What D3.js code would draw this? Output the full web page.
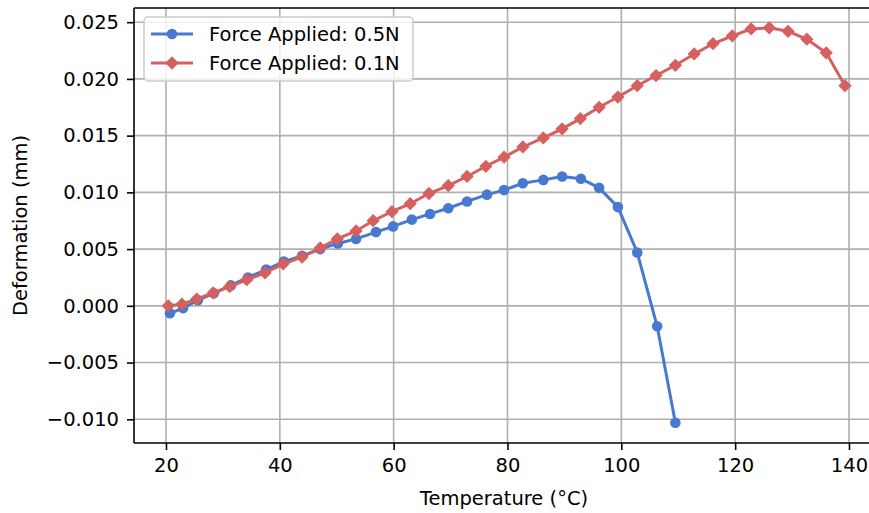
<!DOCTYPE html>
<html>
<head>
<meta charset="utf-8">
<script src="https://cdn.jsdelivr.net/npm/d3@7"></script>
<style>
    body { margin: 0; background: white; }
    text { font-family: "DejaVu Sans", sans-serif; }
</style>
</head>
<body>
<div id="chart"></div>
<script>
const CTX = {
    SVG_W: 869,
    SVG_H: 513,
    BLUE: "#4878CF",
    RED: "#D65F5F",
    GRID: "#b0b0b0",
    FONT: "19.5px"
};

// temperatures (°C) and deformation (mm)
const tempBlue = [20.7, 23.0, 25.6, 28.4, 31.4, 34.4, 37.6, 40.7, 43.9, 47.1, 50.2, 53.4, 56.9, 59.9, 63.2,
    66.4, 69.6, 72.9, 76.4, 79.4, 82.7, 86.3, 89.6, 92.9, 96.1, 99.4, 102.8, 106.3, 109.5];
const defBlue = [-0.00066, -0.0002, 0.0005, 0.0011, 0.0018, 0.0025, 0.0032, 0.0039, 0.0044, 0.0050, 0.0055,
    0.0059, 0.0065, 0.0070, 0.0076, 0.0081, 0.0086, 0.0092, 0.0098, 0.0102, 0.0108, 0.0111, 0.0114, 0.0112,
    0.0104, 0.0087, 0.0047, -0.0018, -0.0103];

const tempRed = [20.4, 22.8, 25.4, 28.3, 31.2, 34.2, 37.4, 40.6, 43.9, 47.1, 50.1, 53.4, 56.4, 59.7, 62.9,
    66.2, 69.6, 72.9, 76.2, 79.4, 82.7, 86.3, 89.6, 92.8, 96.1, 99.4, 102.8, 106.1, 109.5, 112.8, 116.1,
    119.5, 122.8, 126.0, 129.3, 132.6, 136.0, 139.3];
const defRed = [0.0000, 0.00015, 0.0006, 0.00115, 0.0017, 0.0023, 0.0029, 0.0037, 0.0043, 0.0051, 0.0059,
    0.0066, 0.0075, 0.0083, 0.0090, 0.0099, 0.0106, 0.0114, 0.0123, 0.0131, 0.0140, 0.0148, 0.0156, 0.0165,
    0.0175, 0.0184, 0.0194, 0.0203, 0.0212, 0.0222, 0.0231, 0.0238, 0.0244, 0.0245, 0.0242, 0.0235, 0.0223,
    0.0194];

const seriesNames = ["Force Applied: 0.5N", "Force Applied: 0.1N"];
const xTicks = [20, 40, 60, 80, 100, 120, 140];
const yTicks = [-0.010, -0.005, 0.000, 0.005, 0.010, 0.015, 0.020, 0.025];

function buildChart() {
    const svg = d3.select("#chart").append("svg")
        .attr("width", CTX.SVG_W)
        .attr("height", CTX.SVG_H);

    const m = {left: 134, top: 8, right: 880, bottom: 443};
    const x = d3.scaleLinear().domain([14.38, 145.45]).range([m.left, m.right]);
    const y = d3.scaleLinear().domain([-0.01209, 0.02625]).range([m.bottom, m.top]);

    // grid
    let grid = svg.append("g").attr("id", "grid");
    grid.selectAll(".vg").data(xTicks).enter().append("line")
        .attr("x1", d => x(d)).attr("x2", d => x(d))
        .attr("y1", m.top).attr("y2", m.bottom)
        .style("stroke", CTX.GRID).style("stroke-width", 1.6);
    grid.selectAll(".hg").data(yTicks).enter().append("line")
        .attr("x1", m.left).attr("x2", m.right)
        .attr("y1", d => y(d)).attr("y2", d => y(d))
        .style("stroke", CTX.GRID).style("stroke-width", 1.6);

    // axes
    let xAxis = svg.append("g")
        .attr("transform", `translate(0, ${m.bottom})`)
        .call(d3.axisBottom(x).tickValues(xTicks).tickFormat(d3.format("d")).tickSize(7).tickPadding(8));
    let yAxis = svg.append("g")
        .attr("transform", `translate(${m.left}, 0)`)
        .call(d3.axisLeft(y).tickValues(yTicks).tickFormat(d3.format(".3f")).tickSize(7).tickPadding(8));
    [xAxis, yAxis].forEach(function (ax) {
        ax.select(".domain").remove();
        ax.selectAll("line").style("stroke", "black").style("stroke-width", 1.6);
        ax.selectAll("text").style("font-size", CTX.FONT).style("fill", "black")
            .style("font-family", "DejaVu Sans");
    });

    // spines
    svg.append("line").attr("x1", m.left).attr("x2", m.left).attr("y1", m.top).attr("y2", m.bottom)
        .style("stroke", "black").style("stroke-width", 1.6);
    svg.append("line").attr("x1", m.left).attr("x2", m.right).attr("y1", m.bottom).attr("y2", m.bottom)
        .style("stroke", "black").style("stroke-width", 1.6);
    svg.append("line").attr("x1", m.left).attr("x2", m.right).attr("y1", m.top).attr("y2", m.top)
        .style("stroke", "black").style("stroke-width", 1.6);

    svg.append("text")
        .text("Temperature (°C)")
        .attr("x", (m.left + 880) / 2 - 3)
        .attr("y", 505)
        .attr("text-anchor", "middle")
        .style("font-size", CTX.FONT);
    svg.append("text")
        .text("Deformation (mm)")
        .attr("transform", `translate(27, ${(m.top + m.bottom) / 2}) rotate(-90)`)
        .attr("text-anchor", "middle")
        .style("font-size", CTX.FONT);

    const line = d3.line().x(d => x(d[0])).y(d => y(d[1]));
    const blueData = d3.zip(tempBlue, defBlue);
    const redData = d3.zip(tempRed, defRed);
    const diamond = d3.symbol().type(d3.symbolSquare).size(88);

    let gdata = svg.append("g").attr("id", "series");
    gdata.append("path").datum(blueData).attr("d", line)
        .style("fill", "none").style("stroke", CTX.BLUE).style("stroke-width", 3);
    gdata.selectAll(".dot").data(blueData).enter().append("circle")
        .attr("cx", d => x(d[0])).attr("cy", d => y(d[1])).attr("r", 5.3)
        .style("fill", CTX.BLUE);
    gdata.append("path").datum(redData).attr("d", line)
        .style("fill", "none").style("stroke", CTX.RED).style("stroke-width", 3);
    gdata.selectAll(".dia").data(redData).enter().append("path")
        .attr("d", diamond)
        .attr("transform", d => `translate(${x(d[0])}, ${y(d[1])}) rotate(45)`)
        .style("fill", CTX.RED);

    // legend
    let glegend = svg.append("g").attr("id", "legend");
    glegend.append("rect")
        .attr("x", 144).attr("y", 17).attr("width", 269).attr("height", 64)
        .attr("rx", 4)
        .style("fill", "white").style("fill-opacity", 0.8)
        .style("stroke", "#cccccc").style("stroke-width", 1.5);
    const colors = [CTX.BLUE, CTX.RED];
    seriesNames.forEach(function (name, i) {
        let ly = 34 + i * 29;
        glegend.append("line")
            .attr("x1", 151).attr("x2", 193).attr("y1", ly).attr("y2", ly)
            .style("stroke", colors[i]).style("stroke-width", 3);
        if (i === 0) {
            glegend.append("circle").attr("cx", 172).attr("cy", ly).attr("r", 5.3).style("fill", colors[i]);
        } else {
            glegend.append("path").attr("d", diamond)
                .attr("transform", `translate(172, ${ly}) rotate(45)`)
                .style("fill", colors[i]);
        }
        glegend.append("text")
            .text(name)
            .attr("x", 209).attr("y", ly)
            .attr("dy", "0.36em")
            .style("font-size", CTX.FONT);
    });
}

buildChart();
</script>
</body>
</html>
